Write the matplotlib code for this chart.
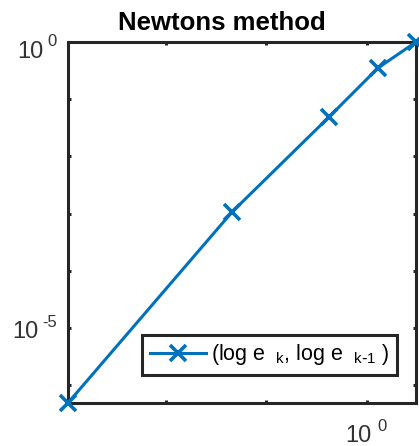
"""Newton's method convergence plot (log-log)."""
import matplotlib
matplotlib.use('Agg')
import matplotlib.pyplot as plt

plt.rcParams['font.family'] = ['Liberation Sans', 'DejaVu Sans']
plt.rcParams['mathtext.default'] = 'regular'

# Data
e_k = [1.07e-3, 4.57e-2, 0.42, 1.285, 3.07]
e_km1 = [4.9e-7, 1.07e-3, 4.9e-2, 0.351, 1.0]
x_ticks = [1e-2, 1e-1, 1e0]
x_labeled = {1e0: '0'}
y_ticks = [1e-6, 1e-5, 1e-4, 1e-3, 1e-2, 1e-1, 1e0]
y_labeled = {1e-5: '-5', 1e0: '0'}

dark = '#262626'
blue = '#0072BD'
PX = 0.72  # points per pixel at dpi 100

fig = plt.figure(figsize=(4.19, 4.46), dpi=100)
ax = fig.add_axes([68 / 419, 43 / 446, 348 / 419, 361 / 446])

ax.loglog(e_k, e_km1, '-x', color=blue, lw=2.2, ms=12, mew=2.6,
          label=r'(log e $_{\ k}$, log e $_{\ k\text{-}1}$ )',
          clip_on=False, zorder=5)

ax.set_xlim(10 ** -2.97, 10 ** 0.487)
ax.set_ylim(10 ** -6.31, 1.0)
ax.set_xticks(x_ticks)
ax.set_yticks(y_ticks)
ax.set_xticklabels([])
ax.set_yticklabels([])
ax.minorticks_off()
ax.tick_params(direction='in', length=2.5, width=2.2, colors=dark,
               top=True, right=True)
for s in ax.spines.values():
    s.set_linewidth(2.2)
    s.set_color(dark)

# MATLAB-style "10 ^e" tick labels
lab_kw = dict(color='#333333', textcoords='offset points', va='baseline',
              annotation_clip=False)
for v, ex in x_labeled.items():
    e = ax.annotate(ex, (v, 0), xycoords=('data', 'axes fraction'),
                    xytext=(10 * PX, -28 * PX), ha='left', fontsize=12,
                    **lab_kw)
    ax.annotate('10', (0, 0), xycoords=(e, 'axes fraction'),
                xytext=(-5 * PX, -39 * PX), ha='right', fontsize=17,
                **lab_kw)
for v, ex in y_labeled.items():
    dy = -4.5 if v == 1e0 else 1.3
    e = ax.annotate(ex, (0, v), xycoords=('axes fraction', 'data'),
                    xytext=(-11 * PX, dy * PX), ha='right', fontsize=12,
                    **lab_kw)
    ax.annotate('10', (0, v), xycoords=(e, 'data'),
                xytext=(-4 * PX, (dy - 11) * PX), ha='right', fontsize=17,
                **lab_kw)

ax.set_title('Newtons method', fontsize=18.5, fontweight='bold', pad=9,
             x=0.443)

leg = ax.legend(loc='lower right', bbox_to_anchor=(0.945, 0.078),
                borderaxespad=0, fontsize=15.5, fancybox=False, framealpha=1,
                handlelength=2.6, handletextpad=0.25, borderpad=0.35)
leg.get_frame().set_edgecolor(dark)
leg.get_frame().set_linewidth(2.2)

fig.savefig('out.png', dpi=100)
